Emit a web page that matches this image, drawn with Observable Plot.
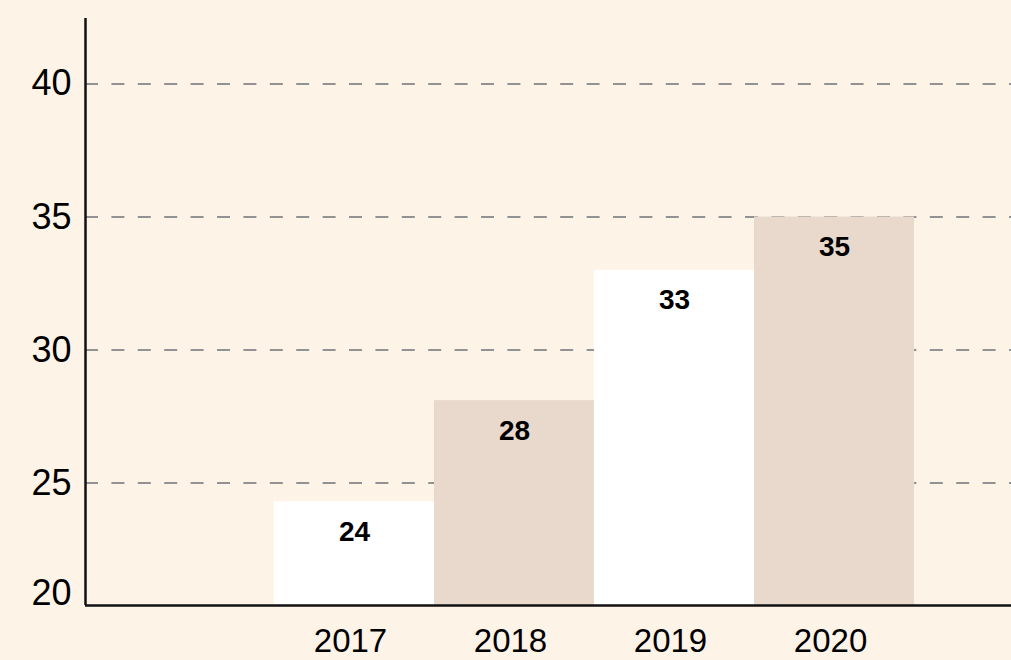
<!DOCTYPE html>
<html>
<head>
<meta charset="utf-8">
<script src="https://cdn.jsdelivr.net/npm/d3@7"></script>
<script src="https://cdn.jsdelivr.net/npm/@observablehq/plot@0.6"></script>
<style>
  html, body { margin: 0; padding: 0; background: #fdf3e7; }
  #chart svg { display: block; }
</style>
</head>
<body>
<div id="chart"></div>
<script>
const years = [2017, 2018, 2019, 2020];
const values = [24.3, 28.1, 33.0, 35.0];
const valueLabels = ["24", "28", "33", "35"];
const gridTicks = [25, 30, 35, 40];
const bottomTick = [20];
const xDomain = [2015.319, 2021.106];
const yDomain = [20.4, 42.46];

const data = years.map((year, i) => ({year, value: values[i], label: valueLabels[i], i}));

const WHITE = "#ffffff";
const TAN = "#e8d9cc";
const FONT = "'Liberation Sans', Arial, Helvetica, sans-serif";

const chart = Plot.plot({
  width: 1011,
  height: 660,
  marginLeft: 85,
  marginRight: 0,
  marginTop: 18,
  marginBottom: 55,
  style: {background: "#fdf3e7", fontFamily: FONT, color: "#000"},
  x: {type: "linear", domain: xDomain, axis: null, label: null},
  y: {domain: yDomain, clamp: true, axis: null, label: null},
  marks: [
    Plot.gridY(gridTicks, {stroke: "#929292", strokeOpacity: 1, strokeWidth: 2, strokeDasharray: "13,13.4"}),
    Plot.rect(data, {
      x1: d => d.year - 0.5,
      x2: d => d.year + 0.5,
      y1: () => bottomTick[0],
      y2: "value",
      fill: d => (d.i % 2 === 0 ? WHITE : TAN)
    }),
    Plot.text(data, {
      x: "year", y: "value", text: "label", dy: 30,
      fontSize: 28, fontWeight: "bold", fill: "#000"
    }),
    Plot.ruleY([yDomain[0]], {stroke: "#111", strokeWidth: 2.5}),
    Plot.ruleX([xDomain[0]], {stroke: "#111", strokeWidth: 2.5}),
    Plot.axisY(gridTicks, {tickSize: 0, tickPadding: 14, fontSize: 36, label: null, tickFormat: d => String(d)}),
    Plot.axisY(bottomTick, {tickSize: 0, tickPadding: 14, fontSize: 36, label: null, dy: -12.5, tickFormat: d => String(d)}),
    Plot.axisX(years, {tickSize: 0, tickPadding: 23, fontSize: 33, label: null, dx: -4, tickFormat: d => String(d)})
  ]
});
document.getElementById("chart").appendChild(chart);
</script>
</body>
</html>
